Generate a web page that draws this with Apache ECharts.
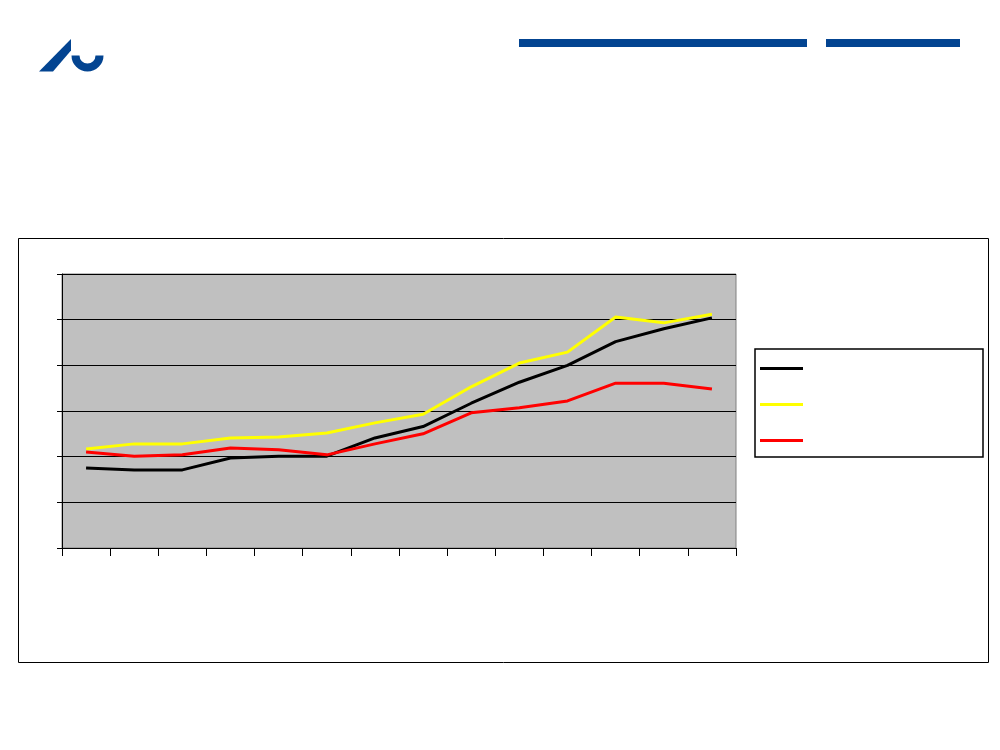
<!DOCTYPE html>
<html>
<head>
<meta charset="utf-8">
<script src="https://cdn.jsdelivr.net/npm/echarts@6/dist/echarts.min.js"></script>
<style>html,body{margin:0;padding:0;background:#fff}#c{width:1000px;height:750px}</style>
</head>
<body>
<div id="c"></div>
<script>
const categories = ['1','2','3','4','5','6','7','8','9','10','11','12','13','14'];
const seriesNames = ['Serie 1','Serie 2','Serie 3'];
const blackValues = [1.75,1.71,1.71,1.97,2.01,2.01,2.41,2.66,3.17,3.63,4.00,4.52,4.80,5.04];
const yellowValues = [2.17,2.28,2.28,2.41,2.43,2.52,2.74,2.93,3.53,4.05,4.29,5.06,4.93,5.12];
const redValues = [2.10,2.01,2.04,2.19,2.15,2.04,2.28,2.50,2.96,3.07,3.22,3.61,3.61,3.48];

const chart = echarts.init(document.getElementById('c'), null, {renderer:'canvas'});
const blue = '#034491';
chart.setOption({
  animation:false,
  backgroundColor:'#fff',
  graphic:[
    {type:'rect', shape:{x:18.5,y:238.5,width:970,height:424}, style:{fill:'none',stroke:'#000',lineWidth:1}, z:-1},
    {type:'rect', shape:{x:519,y:39,width:288,height:8}, style:{fill:blue}},
    {type:'rect', shape:{x:826,y:39,width:134,height:8}, style:{fill:blue}},
    {type:'polygon', shape:{points:[[39,71.5],[71,39],[71,50.5],[53,71.5]]}, style:{fill:blue}},
    {type:'sector', shape:{cx:87.5,cy:55.5,r:16,r0:8,startAngle:0,endAngle:Math.PI}, style:{fill:blue}}
  ],
  grid:{left:62,top:274,right:264,bottom:202,show:true,backgroundColor:'#c0c0c0',borderColor:'#808080',borderWidth:1},
  legend:{
    orient:'vertical', left:755, top:349,
    data:seriesNames,
    icon:'rect', itemWidth:43, itemHeight:3, itemGap:33,
    formatter:function(){return '';},
    backgroundColor:'#fff', borderColor:'#000', borderWidth:1.5,
    padding:[18,180,15,5],
    selectedMode:false
  },
  xAxis:{
    type:'category', data:categories, boundaryGap:true,
    axisLine:{lineStyle:{color:'#000',width:1}},
    axisTick:{show:true,length:8,lineStyle:{color:'#000'},alignWithLabel:false},
    axisLabel:{show:false},
    splitLine:{show:false}
  },
  yAxis:{
    type:'value', min:0, max:6, interval:1,
    axisLine:{show:true,lineStyle:{color:'#000',width:1}},
    axisTick:{show:true,length:5,lineStyle:{color:'#000'}},
    axisLabel:{show:false},
    splitLine:{show:true,lineStyle:{color:'#000',width:1}}
  },
  series:[
    {name:seriesNames[0], type:'line', data:blackValues, showSymbol:false, symbol:'none', color:'#000', lineStyle:{color:'#000',width:3}},
    {name:seriesNames[1], type:'line', data:yellowValues, showSymbol:false, symbol:'none', color:'#ffff00', lineStyle:{color:'#ffff00',width:3}},
    {name:seriesNames[2], type:'line', data:redValues, showSymbol:false, symbol:'none', color:'#ff0000', lineStyle:{color:'#ff0000',width:3}}
  ]
});
</script>
</body>
</html>
